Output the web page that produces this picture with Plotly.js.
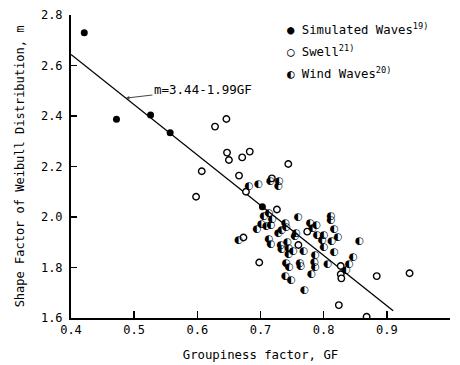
<!DOCTYPE html>
<html>
<head>
<meta charset="utf-8">
<script src="https://cdn.plot.ly/plotly-3.0.1.min.js"></script>
<style>html,body{margin:0;padding:0;background:#fff;}#chart{width:460px;height:365px;}</style>
</head>
<body>
<div id="chart"></div>
<script>
// Simulated waves (filled)
const simX = [0.421, 0.472, 0.526, 0.557, 0.703];
const simY = [2.730, 2.387, 2.404, 2.334, 2.041];

// Swell (open)
const swellX = [0.646, 0.628, 0.647, 0.650, 0.671, 0.683, 0.744, 0.607, 0.666, 0.598,
                0.718, 0.677, 0.726, 0.673, 0.774, 0.760, 0.698, 0.827, 0.827, 0.828,
                0.884, 0.936, 0.824, 0.868];
const swellY = [2.388, 2.358, 2.255, 2.226, 2.236, 2.259, 2.210, 2.181, 2.164, 2.080,
                2.153, 2.100, 2.030, 1.919, 1.942, 1.889, 1.820, 1.806, 1.773, 1.757,
                1.766, 1.777, 1.651, 1.605];

// Wind waves (half filled)
const windX = [0.681, 0.696, 0.715, 0.729, 0.728, 0.705, 0.713, 0.718, 0.701, 0.709,
               0.694, 0.716, 0.739, 0.740, 0.733, 0.728, 0.759, 0.756, 0.754, 0.778,
               0.788, 0.782, 0.811, 0.811, 0.789, 0.800, 0.816, 0.822, 0.812, 0.797,
               0.800, 0.856, 0.816, 0.665, 0.713, 0.716, 0.732, 0.742, 0.733, 0.744,
               0.751, 0.744, 0.768, 0.786, 0.740, 0.745, 0.762, 0.763, 0.785, 0.786,
               0.806, 0.835, 0.840, 0.846, 0.739, 0.748, 0.780, 0.769];
const windY = [2.120, 2.131, 2.140, 2.143, 2.123, 2.001, 2.015, 1.991, 1.971, 1.964,
               1.952, 1.968, 1.975, 1.959, 1.949, 1.935, 1.999, 1.935, 1.922, 1.975,
               1.968, 1.955, 2.001, 1.988, 1.929, 1.929, 1.951, 1.920, 1.902, 1.906,
               1.880, 1.902, 1.859, 1.906, 1.913, 1.892, 1.889, 1.898, 1.873, 1.876,
               1.865, 1.852, 1.863, 1.849, 1.817, 1.800, 1.817, 1.803, 1.821, 1.801,
               1.814, 1.790, 1.814, 1.840, 1.766, 1.750, 1.774, 1.708];

// Regression m = a - b*GF
const fitA = 3.44, fitB = 1.99;
const fitX = [0.40, 0.91];
const fitY = fitX.map(x => fitA - fitB * x);

const xTicks = [0.4, 0.5, 0.6, 0.7, 0.8, 0.9, 1.0];
const xTickText = ['0.4', '0.5', '0.6', '0.7', '0.8', '0.9', '1.0'];
const yTicks = [1.6, 1.8, 2.0, 2.2, 2.4, 2.6, 2.8];
const yTickText = ['1.6', '1.8', '2.0', '2.2', '2.4', '2.6', '2.8'];

const legendNames = ['Simulated Waves<sup>19)</sup>', 'Swell<sup>21)</sup>', 'Wind Waves<sup>20)</sup>'];
const legendSymbols = ['\u25CF', '\u25CB', '\u25D0'];

const mono = 'DejaVu Sans Mono, monospace';

const traces = [
  {x: fitX, y: fitY, mode: 'lines', line: {color: '#000', width: 1.3}, hoverinfo: 'skip'},
  {x: swellX, y: swellY, mode: 'markers',
   marker: {symbol: 'circle', size: 6.5, color: '#fff', line: {color: '#000', width: 1.4}}},
  {x: windX, y: windY, mode: 'text', text: windX.map(() => '\u25D0'),
   textposition: 'middle center',
   textfont: {family: 'DejaVu Sans', size: 10.5, color: '#000'}},
  {x: simX, y: simY, mode: 'markers',
   marker: {symbol: 'circle', size: 7, color: '#000', line: {color: '#000', width: 0}}}
];

const annotations = [
  {x: 0.487, y: fitA - fitB * 0.487, xref: 'x', yref: 'y',
   text: 'm=3.44-1.99GF', showarrow: true, arrowhead: 2, arrowsize: 0.7, arrowwidth: 1,
   ax: 77, ay: -9, font: {family: mono, size: 12.5, color: '#000'}}
];
const legY = [0.953, 0.882, 0.810];
for (let i = 0; i < legendNames.length; i++) {
  annotations.push({x: 0.565, y: legY[i], xref: 'paper', yref: 'paper',
    xanchor: 'left', yanchor: 'middle', showarrow: false,
    text: legendSymbols[i] + ' ' + legendNames[i],
    font: {family: mono, size: 12.3, color: '#000'}});
}

const layout = {
  width: 460, height: 365,
  margin: {l: 71, r: 10, t: 15, b: 47},
  paper_bgcolor: '#fff', plot_bgcolor: '#fff',
  showlegend: false,
  font: {family: mono, size: 11, color: '#000'},
  xaxis: {range: [0.4, 1.0], tickvals: xTicks, ticktext: xTickText,
    showgrid: false, zeroline: false, showline: true, linecolor: '#000', linewidth: 2,
    ticks: 'inside', ticklen: 7, tickwidth: 1.5, tickcolor: '#000',
    ticklabelstandoff: 0,
    title: {text: 'Groupiness factor, GF', font: {family: mono, size: 12.3}, standoff: 14},
    tickfont: {family: mono, size: 12}},
  yaxis: {range: [1.6, 2.8], tickvals: yTicks, ticktext: yTickText,
    showgrid: false, zeroline: false, showline: true, linecolor: '#000', linewidth: 2,
    ticks: 'inside', ticklen: 6, tickwidth: 1.5, tickcolor: '#000',
    ticklabelstandoff: 4,
    title: {text: 'Shape Factor of Weibull Distribution, m', font: {family: mono, size: 12}, standoff: 14},
    tickfont: {family: mono, size: 12}},
  annotations: annotations
};

Plotly.newPlot('chart', traces, layout, {staticPlot: true, displayModeBar: false});
</script>
</body>
</html>
